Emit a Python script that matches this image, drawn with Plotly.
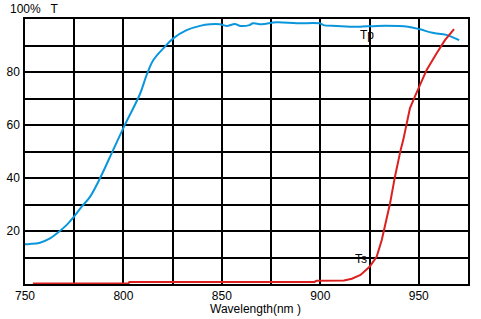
import plotly.graph_objects as go

# Tp (blue) curve
tp_x = [750, 752.5, 757.6, 762.7, 766.9, 771.2, 774.9, 778.8, 783, 788.1, 794.8, 800.3,
        808.4, 811.8, 815.2, 821.1, 825.3, 832.1, 838.9, 844, 849, 852.4, 856.6,
        859.2, 864, 865.8, 870.2, 877.8, 888, 900, 901.5, 908.3, 915, 920.1, 929,
        944.5, 950.6, 957, 964, 970.5]
tp_y = [15.0, 15.1, 15.6, 17.2, 19.5, 22.3, 25.4, 29.2, 32.9, 39.9, 50.6, 59.4,
        71.7, 78.9, 84.5, 89.6, 92.7, 95.8, 97.4, 98.0, 98.0, 97.4, 98.1,
        97.4, 97.7, 98.4, 98.0, 98.8, 98.4, 98.3, 97.7, 97.4, 97.1, 97.1, 97.4,
        97.1, 96.1, 94.8, 94.0, 92.0]

# Ts (red) curve
ts_x = [754, 802.5, 803, 897, 898, 912, 916, 920.4, 925, 928.6, 931.2, 932.3, 935.4,
        937.9, 939.6, 940.8, 942.1, 943.9, 945.5, 948, 950.3, 954, 959, 963.3, 967.9]
ts_y = [0.2, 0.2, 0.8, 0.8, 1.2, 1.3, 2.0, 3.4, 6.5, 10.3, 16.6, 20.0, 30.4,
        40.5, 46.8, 50.6, 54.3, 60.6, 66.3, 70.7, 74.5, 80.8, 87.0, 92.0, 96.2]

x_grid = [750, 775, 800, 825, 850, 875, 900, 925, 950, 975]
x_text = ["750", "", "800", "", "850", "", "900", "", "950", ""]
y_grid = [0, 10, 20, 30, 40, 50, 60, 70, 80, 90, 100]
y_text = ["", "", "20", "", "40", "", "60", "", "80", "", ""]

FONT = "Liberation Sans, Arial, sans-serif"

fig = go.Figure()
fig.add_trace(go.Scatter(x=tp_x, y=tp_y, mode="lines", line=dict(color="#0a96dc", width=2),
                         line_shape="spline", showlegend=False))
fig.add_trace(go.Scatter(x=ts_x, y=ts_y, mode="lines", line=dict(color="#dc2020", width=2),
                         showlegend=False))

fig.update_layout(
    width=481, height=319,
    margin=dict(l=25, r=13, t=19, b=35),
    paper_bgcolor="white", plot_bgcolor="white",
    font=dict(family=FONT, size=12, color="black"),
    xaxis=dict(range=[750, 975], tickvals=x_grid, ticktext=x_text, showgrid=True,
               gridcolor="black", gridwidth=1.5, zeroline=False, showline=True,
               linecolor="black", linewidth=1.5, mirror=True, ticks="",
               automargin=False),
    yaxis=dict(range=[0, 100], tickvals=y_grid, ticktext=y_text, showgrid=True,
               gridcolor="black", gridwidth=1.5, zeroline=False, showline=True,
               linecolor="black", linewidth=1.5, mirror=True, ticks="", ticklabelstandoff=1,
               automargin=False),
    annotations=[
        dict(x=0.0, y=1.0, xref="paper", yref="paper", text="100%   T", showarrow=False,
             xanchor="left", yanchor="bottom", xshift=-17, yshift=1, font=dict(size=12)),
        dict(x=0.52, y=0, xref="paper", yref="paper", text="Wavelength(nm )", showarrow=False,
             xanchor="center", yanchor="top", yshift=-16, font=dict(size=12)),
        dict(x=932, y=94, text="Tp", showarrow=False, xanchor="center", yanchor="middle", xshift=-16),
        dict(x=929, y=9.5, text="Ts", showarrow=False, xanchor="center", yanchor="middle", xshift=-16),
    ],
)
fig.write_html("out.html")
